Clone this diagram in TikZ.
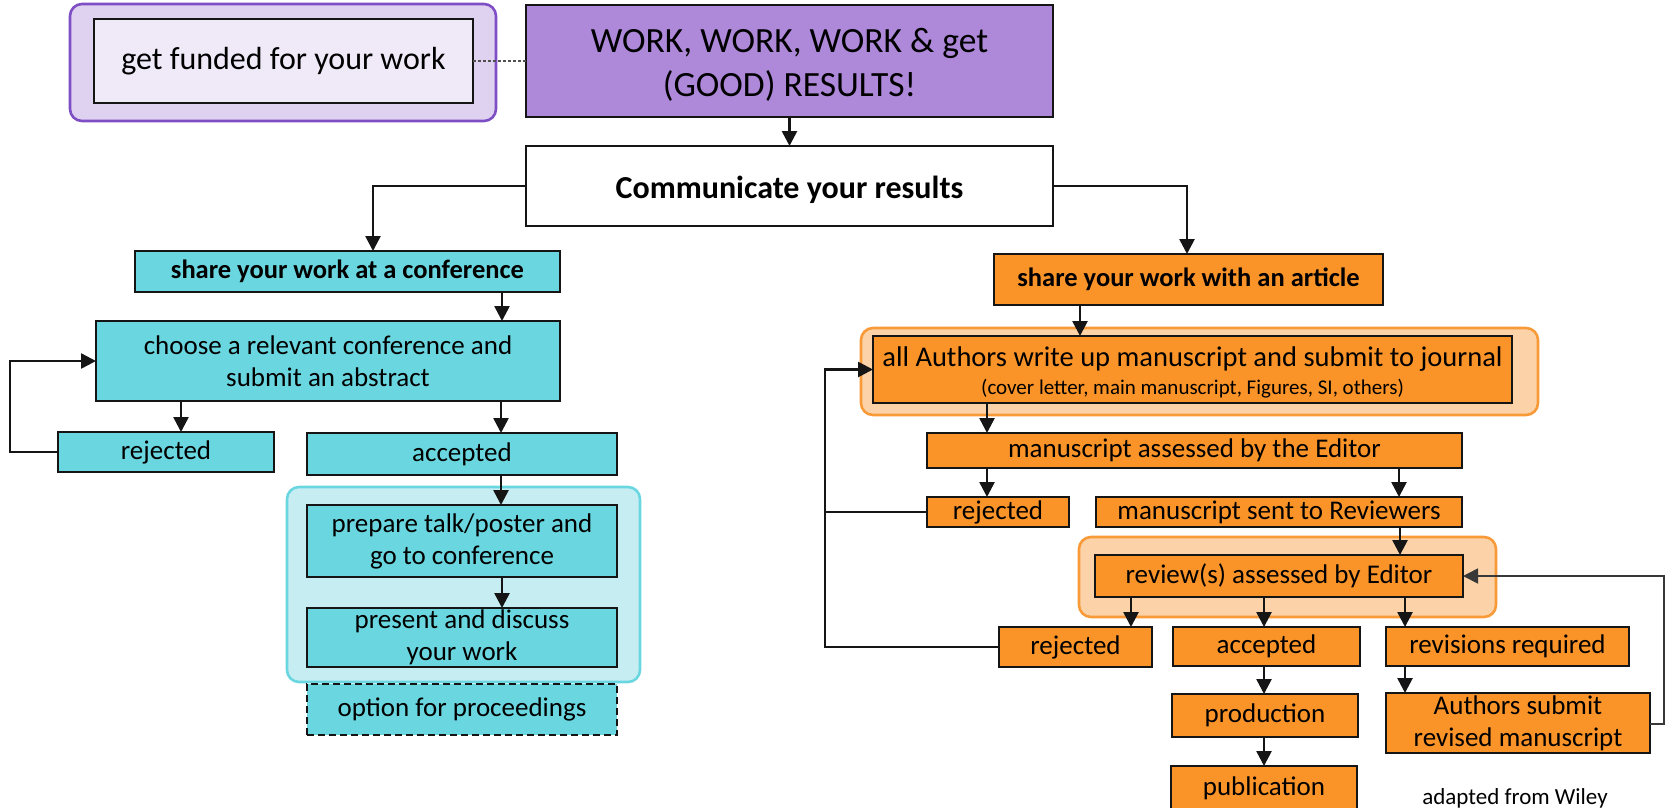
\documentclass[tikz,border=0pt]{standalone}
\usepackage{fontspec}
\setmainfont{Carlito}
\usetikzlibrary{arrows.meta,calc}
\definecolor{teal1}{HTML}{6AD7E0}
\definecolor{teal2}{HTML}{C6EDF1}
\definecolor{teal3}{HTML}{6AD7E0}
\definecolor{or1}{HTML}{FA9429}
\definecolor{or2}{HTML}{FCD3A8}
\definecolor{or3}{HTML}{F99A38}
\definecolor{pu1}{HTML}{AE88D9}
\definecolor{pu2}{HTML}{DFD1F0}
\definecolor{pu3}{HTML}{7E4EC5}
\definecolor{pu4}{HTML}{EFE9F8}
\definecolor{ln}{HTML}{151515}
\tikzset{
  box/.style={draw=ln, line width=2.3pt, inner sep=0pt, outer sep=0pt, align=center, rectangle},
  tbox/.style={box, fill=teal1},
  obox/.style={box, fill=or1},
  cont/.style={rounded corners=12pt, line width=2.6pt, inner sep=0pt, outer sep=0pt, rectangle},
  arr/.style={draw=ln, line width=2.6pt, -{Triangle[length=15pt,width=15pt]}},
  lnk/.style={draw=ln, line width=2.6pt},
  fs/.style={font=\fontsize{27}{32}\selectfont},
  fb/.style={font=\fontsize{26.5}{32}\selectfont\bfseries},
}
\begin{document}
\begin{tikzpicture}[x=1pt,y=-1pt]
\useasboundingbox (0,0) rectangle (1667,807);
% purple
\node[cont, draw=pu3, fill=pu2, minimum width=426pt, minimum height=117pt] (fundc) at (283,62.5) {};
\node[box, fill=pu4, minimum width=379pt, minimum height=84pt, font=\fontsize{32}{38}\selectfont] (fund) at (283.5,61) {get funded for your work};
\node[box, fill=pu1, minimum width=527pt, minimum height=112pt, font=\fontsize{35.5}{44}\selectfont] (work) at (789.5,61) {\rule{0pt}{32pt}WORK, WORK, WORK \& get\\(GOOD) RESULTS!};
\node[box, fill=white, minimum width=527pt, minimum height=80pt, text height=30pt, font=\fontsize{32}{38}\selectfont\bfseries] (comm) at (789.5,186) {Communicate your results};
% teal
\node[tbox, minimum width=425pt, minimum height=41pt, fb] (conf) at (347.5,271.5) {share your work at a conference};
\node[tbox, minimum width=464pt, minimum height=80pt, fs] (choose) at (328,361) {choose a relevant conference and\\submit an abstract};
\node[tbox, minimum width=216pt, minimum height=40pt, fs] (rej1) at (166,452) {rejected};
\node[tbox, minimum width=310pt, minimum height=42pt, fs] (acc1) at (462,454) {accepted};
\node[cont, draw=teal3, fill=teal2, minimum width=353pt, minimum height=195pt] (tealc) at (463.5,584.5) {};
\node[tbox, minimum width=310pt, minimum height=72pt, fs] (prep) at (462,541) {prepare talk/poster and\\go to conference};
\node[tbox, minimum width=310pt, minimum height=59pt, fs] (pres) at (462,637.5) {present and discuss\\your work};
\node[tbox, dash pattern=on 7pt off 4pt, minimum width=310pt, minimum height=51pt, fs] (opt) at (462,709.5) {option for proceedings};
% orange
\node[obox, minimum width=389pt, minimum height=51pt, fb] (art) at (1188.5,279.5) {share your work with an article};
\node[cont, draw=or3, fill=or2, minimum width=677pt, minimum height=87pt] (orc1) at (1199.5,371.5) {};
\node[obox, minimum width=639pt, minimum height=67pt, font=\fontsize{28.5}{30}\selectfont] (auth) at (1192.5,369.5) {\rule{0pt}{26pt}all Authors write up manuscript and submit to journal\\[-2pt]{\fontsize{21}{24}\selectfont (cover letter, main manuscript, Figures, SI, others)}};
\node[obox, minimum width=535pt, minimum height=35pt, fs] (assess) at (1194.5,450.5) {manuscript assessed by the Editor};
\node[obox, minimum width=142pt, minimum height=30pt, fs] (rej2) at (998,512) {rejected};
\node[obox, minimum width=366pt, minimum height=30pt, fs] (sent) at (1279,512) {manuscript sent to Reviewers};
\node[cont, draw=or3, fill=or2, minimum width=417pt, minimum height=80pt] (orc2) at (1287.5,577) {};
\node[obox, minimum width=368pt, minimum height=42pt, fs] (review) at (1279,576) {review(s) assessed by Editor};
\node[obox, minimum width=153pt, minimum height=40pt, fs] (rej3) at (1075.5,647) {rejected};
\node[obox, minimum width=187pt, minimum height=39pt, fs] (acc2) at (1266.5,646.5) {accepted};
\node[obox, minimum width=243pt, minimum height=39pt, fs] (revreq) at (1507.5,646.5) {revisions required};
\node[obox, minimum width=186pt, minimum height=43pt, fs] (prod) at (1265,715.5) {production};
\node[obox, minimum width=186pt, minimum height=44pt, fs] (pub) at (1264,788) {publication};
\node[obox, minimum width=264pt, minimum height=60pt, fs] (authsub) at (1518,723) {Authors submit\\revised manuscript};
\node[font=\fontsize{23}{26}\selectfont, inner sep=0pt] (wiley) at (1515,798) {adapted from Wiley};
% connectors
\draw[dash pattern=on 3pt off 2pt, draw=ln!75, line width=1.4pt] (fund.east) -- (work.west);
\draw[arr] (work.south) -- (comm.north);
\draw[arr] (comm.west) -| ([xshift=238pt]conf.north west);
\draw[arr] (comm.east) -| ([xshift=193pt]art.north west);
\coordinate (c1) at ([xshift=367pt]conf.south west);
\draw[arr] (c1) -- (c1 |- choose.north);
\coordinate (c2) at ([xshift=123pt]rej1.north west);
\draw[arr] (c2 |- choose.south) -- (c2);
\coordinate (c3) at ([xshift=194pt]acc1.north west);
\draw[arr] (c3 |- choose.south) -- (c3);
\draw[arr] (rej1.west) -- ++(-48,0) |- (choose.west);
\draw[arr] (c3 |- acc1.south) -- (c3 |- prep.north);
\coordinate (c4) at ([xshift=195pt]prep.south west);
\draw[arr] (c4) -- (c4 |- pres.north);
% orange connectors
\coordinate (o1) at ([xshift=86pt]art.south west);
\draw[arr] (o1) -- (o1 |- auth.north);
\coordinate (o2) at ([xshift=60pt]assess.north west);
\draw[arr] (o2 |- auth.south) -- (o2);
\draw[arr] (o2 |- assess.south) -- (o2 |- rej2.north);
\coordinate (o3) at ([xshift=-63pt]assess.south east);
\draw[arr] (o3) -- (o3 |- sent.north);
\coordinate (o4) at ([xshift=-62pt]sent.south east);
\draw[arr] (o4) -- (o4 |- review.north);
\coordinate (lp) at ([xshift=-174pt]rej3.west);
\draw[arr] (rej3.west) -- (lp) |- (auth.west);
\draw[lnk] (rej2.west) -- (rej2.west -| lp);
\coordinate (o5) at ([xshift=36pt]review.south west);
\draw[arr] (o5) -- (o5 |- rej3.north);
\coordinate (o6) at ([xshift=-15pt]review.south);
\draw[arr] (o6) -- (o6 |- acc2.north);
\draw[arr] (o6 |- acc2.south) -- (o6 |- prod.north);
\draw[arr] (o6 |- prod.south) -- (o6 |- pub.north);
\coordinate (o7) at ([xshift=19pt]revreq.south west);
\draw[arr] (o7 |- review.south) -- (o7 |- revreq.north);
\draw[arr] (o7) -- (o7 |- authsub.north);
\draw[draw=ln!85, line width=1.8pt, -{Triangle[length=15pt,width=15pt]}] ([yshift=-1pt]authsub.east) -- ++(14,0) |- (review.east);
\end{tikzpicture}
\end{document}
